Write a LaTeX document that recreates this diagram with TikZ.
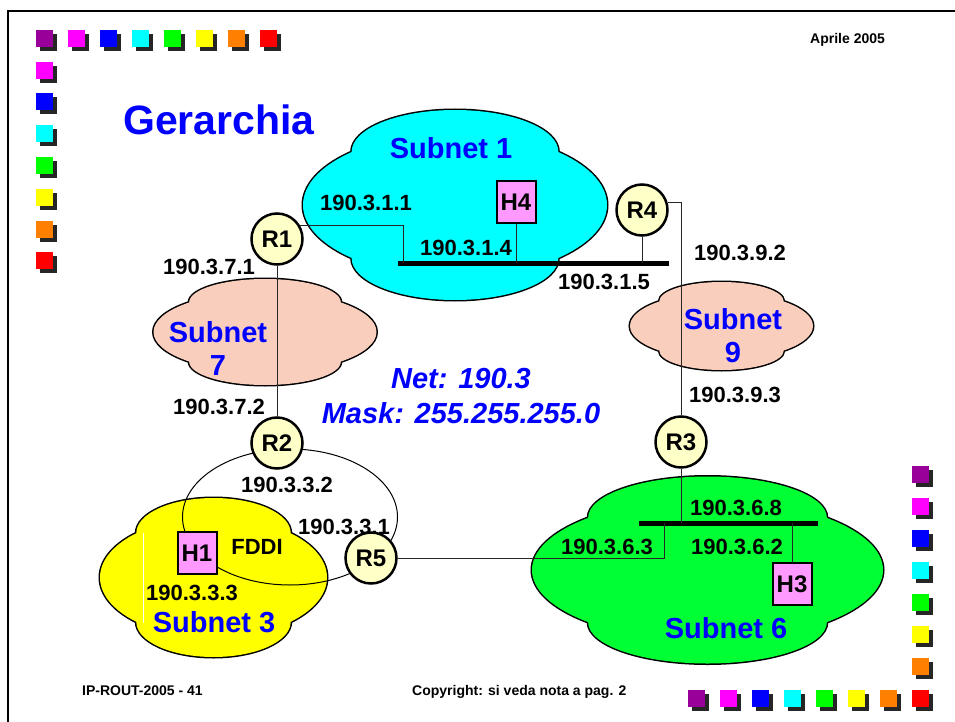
\documentclass[tikz,border=0pt]{standalone}
\usepackage{fontspec}
\setmainfont{Liberation Sans}
\usetikzlibrary{positioning,calc}

\definecolor{sqpurple}{HTML}{990099}
\definecolor{sqmagenta}{HTML}{FF00FF}
\definecolor{sqblue}{HTML}{0000FF}
\definecolor{sqcyan}{HTML}{00FFFF}
\definecolor{sqgreen}{HTML}{00FF00}
\definecolor{sqyellow}{HTML}{FFFF00}
\definecolor{sqorange}{HTML}{FF8000}
\definecolor{sqred}{HTML}{FF0000}
\definecolor{sqshadow}{HTML}{262626}
\definecolor{netcyan}{HTML}{00FFFF}
\definecolor{netsalmon}{HTML}{F9CEBD}
\definecolor{netyellow}{HTML}{FFFF00}
\definecolor{netgreen}{HTML}{00FF33}
\definecolor{netblue}{HTML}{0000FF}
\definecolor{routerfill}{HTML}{FFFFC8}
\definecolor{hostfill}{HTML}{FF99FF}

% cloud: centre x, centre y, width, height, colour
\newcommand{\netcloud}[5]{%
  \draw[line width=3pt] (#1,#2) ellipse [x radius={0.5*#3}, y radius={0.38*#4}]
    (#1,#2-0.28*#4) ellipse [x radius={0.34*#3}, y radius={0.22*#4}]
    (#1,#2+0.28*#4) ellipse [x radius={0.34*#3}, y radius={0.22*#4}];
  \fill[#5] (#1,#2) ellipse [x radius={0.5*#3}, y radius={0.38*#4}]
    (#1,#2-0.28*#4) ellipse [x radius={0.34*#3}, y radius={0.22*#4}]
    (#1,#2+0.28*#4) ellipse [x radius={0.34*#3}, y radius={0.22*#4}];
}

\begin{document}
\begin{tikzpicture}[x=1pt, y=-1pt,
  router/.style={draw, circle, line width=2.5pt, fill=routerfill, minimum size=51pt, inner sep=0pt, font=\fontsize{24}{24}\selectfont\bfseries},
  host/.style={draw, rectangle, line width=2pt, fill=hostfill, minimum width=39pt, minimum height=42pt, inner sep=0pt, font=\fontsize{24}{24}\selectfont\bfseries},
  addr/.style={font=\fontsize{22}{22}\selectfont\bfseries, inner sep=0pt},
  netlbl/.style={text=netblue, align=center, font=\fontsize{29}{33}\selectfont\bfseries, inner sep=0pt},
  wire/.style={line width=0.8pt, black!85},
  bus/.style={line width=5pt},
  foot/.style={font=\fontsize{14}{14}\selectfont\bfseries, inner sep=0pt, anchor=base west}]
  \useasboundingbox (0,0) rectangle (955,722);

  % frame
  \draw[line width=2.5pt] (8,722) -- (8,11) -- (955,11);

  % coloured squares
  \foreach \c [count=\i from 0] in {sqpurple,sqmagenta,sqblue,sqcyan,sqgreen,sqyellow,sqorange,sqred} {
    \fill[sqshadow] (40+32*\i,34) rectangle ++(17,17);
    \fill[\c] (36+32*\i,30) rectangle ++(17,17);
    \fill[sqshadow] (40,34+31.75*\i) rectangle ++(17,17);
    \fill[\c] (36,30+31.75*\i) rectangle ++(17,17);
    \fill[sqshadow] (916,470+32*\i) rectangle ++(17,17);
    \fill[\c] (912,466+32*\i) rectangle ++(17,17);
    \fill[sqshadow] (692+32*\i,694) rectangle ++(17,17);
    \fill[\c] (688+32*\i,690) rectangle ++(17,17);
  }

  % subnets
  \netcloud{455}{205}{304}{190}{netcyan}
  \netcloud{265}{332}{223}{106}{netsalmon}
  \netcloud{721.5}{326}{183}{88}{netsalmon}
  \netcloud{213.5}{577.5}{227}{159}{netyellow}
  \netcloud{707.5}{570}{351}{187}{netgreen}
  \draw[white, line width=1pt] (143,533) -- (143,623);

  % FDDI ring
  \draw[line width=1pt] (290,517) ellipse [x radius=107.5, y radius=68];

  \node[router] (r1) at (277,239) {R1};
  \node[router] (r2) at (277,443) {R2};
  \node[router] (r3) at (681,442) {R3};
  \node[router] (r4) at (642,210) {R4};
  \node[router] (r5) at (371,558) {R5};
  \node[host] (h4) at (516,202) {H4};
  \node[host] (h1) at (197,553) {H1};
  \node[host] (h3) at (792,584) {H3};

  \coordinate (lan1w) at (398,263);
  \coordinate (lan1e) at (669,263);
  \coordinate (lan1r1) at (403,263);
  \coordinate (lan6w) at (639,523);
  \coordinate (lan6e) at (818,523);
  \coordinate (lan6r5) at (664,523);

  \draw[bus] (lan1w) -- (lan1e);
  \draw[bus] (lan6w) -- (lan6e);

  \draw[wire] (r1.31) -| (lan1r1);
  \draw[wire] (h4.south) -- (h4.south |- lan1w);
  \draw[wire] (r4.south) -- (r4.south |- lan1w);
  \draw[wire] (r4.17) -| (r3.north);
  \draw[wire] (r1) -- (r2);
  \draw[wire] (r3.south) -- (r3.south |- lan6w);
  \draw[wire] (r5.east) -| (lan6r5);
  \draw[wire] (h3.north) -- (h3.north |- lan6w);

  % labels
  \node[font=\fontsize{41}{41}\selectfont\bfseries, text=netblue, anchor=base west, inner sep=0pt] (title) at (123,135) {Gerarchia};
  \node[netlbl] (sub1) at (451,148) {Subnet 1};
  \node[netlbl] (sub7) at (218,348) {Subnet\\7};
  \node[netlbl] (sub9) at (733,336) {Subnet\\9};
  \node[netlbl] (sub3) at (214,622) {Subnet 3};
  \node[netlbl] (sub6) at (726,628) {Subnet 6};
  \node[netlbl, font=\fontsize{29}{35}\selectfont\bfseries\itshape] (netmask) at (461,396) {Net: 190.3\\Mask: 255.255.255.0};

  \node[addr] (a11) at (366,203) {190.3.1.1};
  \node[addr] (a14) at (466,248) {190.3.1.4};
  \node[addr] (a15) at (604,282) {190.3.1.5};
  \node[addr] (a92) at (740,253) {190.3.9.2};
  \node[addr] (a93) at (735,395) {190.3.9.3};
  \node[addr] (a71) at (209,267) {190.3.7.1};
  \node[addr] (a72) at (219,407) {190.3.7.2};
  \node[addr] (a32) at (287,485) {190.3.3.2};
  \node[addr] (a31) at (344,527) {190.3.3.1};
  \node[addr] (a33) at (192,593) {190.3.3.3};
  \node[addr] (fddi) at (257,547) {FDDI};
  \node[addr] (a68) at (736,508) {190.3.6.8};
  \node[addr] (a63) at (607,547) {190.3.6.3};
  \node[addr] (a62) at (737,547) {190.3.6.2};

  \node[foot] (date) at (810,44) {Aprile 2005};
  \node[foot] (slide) at (82,695) {IP-ROUT-2005 - 41};
  \node[foot] (copy) at (412,695) {Copyright: si veda nota a pag. 2};
\end{tikzpicture}
\end{document}
